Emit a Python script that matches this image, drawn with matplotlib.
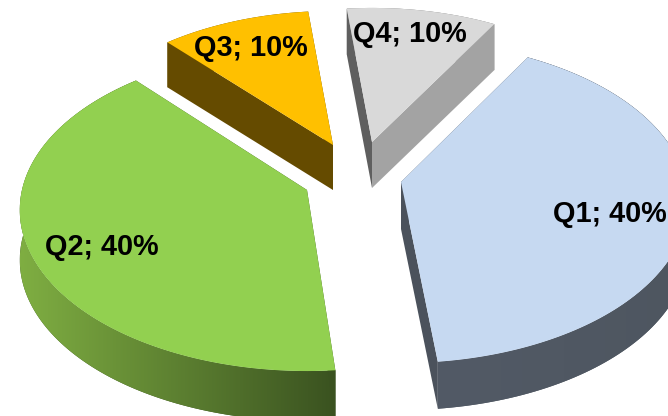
import numpy as np
import matplotlib
matplotlib.use("Agg")
import matplotlib.pyplot as plt
from matplotlib.colors import LinearSegmentedColormap
from matplotlib.patches import Polygon

# data
names = ["Q1", "Q2", "Q3", "Q4"]
values = [40, 40, 10, 10]

# look of the slices
top_colors = ["#c6d9f1", "#92d050", "#ffc000", "#d9d9d9"]
wall_colors = [("#525a66", "#4e5660"), ("#7fae42", "#3a5220"), ("#654b00", "#654b00"), ("#a6a6a6", "#a0a0a0")]
# cut face at the start and at the end of each slice
cut_start = ["#4e5660", "#3a5220", "#654b00", "#5f5f5f"]
cut_end = ["#4b525c", "#3a5220", "#654b00", "#a3a3a3"]
apex = [(401, 182), (307, 190), (333, 145), (372, 142)]
scale = [1.0, 1.0, 0.95, 0.95]
turn = [1.5, 0.0, 0.9, 1.0]
depth = [47, 50, 45, 46]
label_pos = [(553, 214), (45, 247), (194, 48), (353, 34)]

start_angle = 59
rad_x = 285.0
rad_y = 158.6
persp = 0.124


def project(theta, r=1.0):
    # disc -> screen offset, the far side of the pie comes out smaller
    u = r * np.cos(theta)
    v = r * np.sin(theta)
    w = 1 + persp * v
    return rad_x * u / w, -rad_y * v / w


def wall(ax, pts, c1, c2, z):
    # wall with a left-right colour gradient, clipped to the polygon
    patch = Polygon(pts, closed=True, facecolor=c2, edgecolor="none", zorder=z)
    ax.add_patch(patch)
    if c1 != c2:
        cmap = LinearSegmentedColormap.from_list("w", [c1, c2])
        grad = np.linspace(0, 1, 256).reshape(1, -1)
        im = ax.imshow(grad, cmap=cmap, aspect="auto", interpolation="bilinear", zorder=z,
                       extent=(pts[:, 0].min(), pts[:, 0].max(), pts[:, 1].max(), pts[:, 1].min()))
        im.set_clip_path(patch)


fig = plt.figure(figsize=(6.68, 4.16), dpi=100)
ax = fig.add_axes([0, 0, 1, 1])

# angles of each slice, clockwise from the start angle
fracs = np.array(values) / sum(values) * 360
ends = start_angle - np.cumsum(fracs)
starts = ends + fracs

# back slices first
z = 1
for i in [2, 3, 1, 0]:
    th = np.radians(np.linspace(starts[i], ends[i], 120) + turn[i])
    dx, dy = project(th)
    rim = np.column_stack([apex[i][0] + scale[i] * dx, apex[i][1] + scale[i] * dy])
    drop = np.array([0, depth[i]])
    tip = np.array(apex[i], dtype=float)

    # outer wall, the two cut faces over it, then the top
    wall(ax, np.vstack([rim, (rim + drop)[::-1]]), wall_colors[i][0], wall_colors[i][1], z)
    for end, col in ((rim[0], cut_start[i]), (rim[-1], cut_end[i])):
        ax.add_patch(Polygon([tip, end, end + drop, tip + drop], closed=True,
                             facecolor=col, edgecolor="none", zorder=z + 1))
    ax.add_patch(Polygon(np.vstack([tip, rim]), closed=True, facecolor=top_colors[i],
                         edgecolor="none", zorder=z + 2))
    z += 3

for i in range(4):
    ax.text(label_pos[i][0], label_pos[i][1], "%s; %d%%" % (names[i], values[i]),
            family="Liberation Sans", fontweight="bold", fontsize=20.8, color="black",
            ha="left", va="center", zorder=20)

ax.set_xlim(0, 668)
ax.set_ylim(416, 0)
ax.axis("off")
fig.savefig("out.png", dpi=100)
